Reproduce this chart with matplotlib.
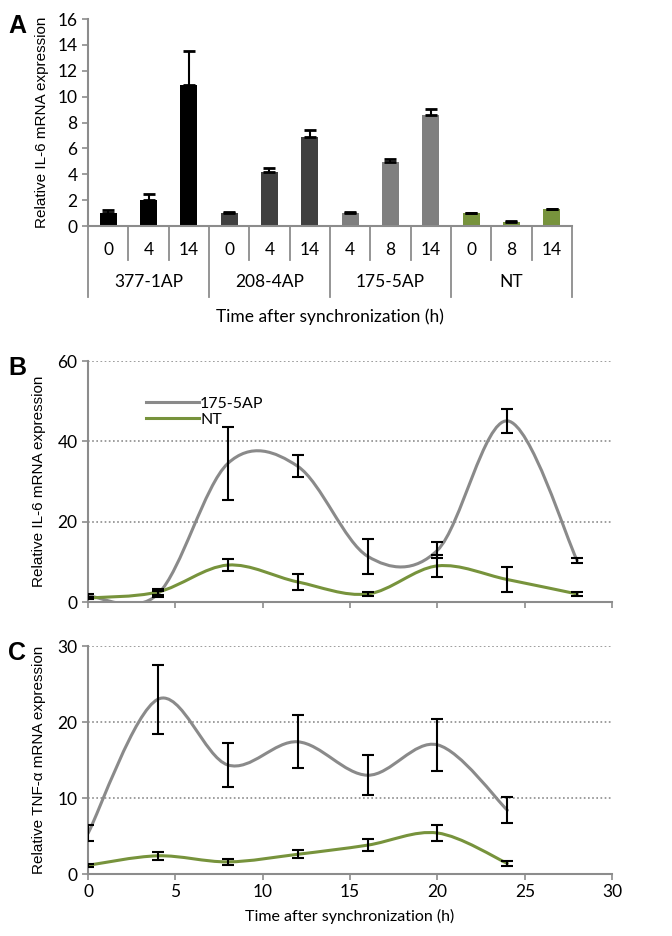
import numpy as np
import matplotlib
matplotlib.use("Agg")
import matplotlib.pyplot as plt
from matplotlib.path import Path
from matplotlib.patches import PathPatch
from matplotlib.lines import Line2D
import matplotlib.transforms as mtransforms

# ---- data ----
# panel A: bars
timesA = ['0', '4', '14', '0', '4', '14', '4', '8', '14', '0', '8', '14']
groupsA = ['377-1AP', '208-4AP', '175-5AP', 'NT']
il6_bar = [1.0, 2.0, 10.9, 1.0, 4.2, 6.9, 1.0, 4.95, 8.6, 1.0, 0.33, 1.3]
il6_bar_err = [0.25, 0.5, 2.6, 0.05, 0.25, 0.5, 0.05, 0.25, 0.45, 0.04, 0.03, 0.05]

# panel B: IL-6 time course
hoursB = [0, 4, 8, 12, 16, 20, 24, 28]
il6_175 = [1.5, 2.0, 34.5, 33.8, 11.4, 12.9, 45.1, 10.3]
il6_175_err = [0.4, 0.8, 9.0, 2.7, 4.4, 2.0, 2.9, 0.7]
il6_nt = [1.0, 2.5, 9.2, 5.0, 2.0, 9.0, 5.6, 2.0]
il6_nt_err = [0.3, 0.7, 1.5, 2.0, 0.4, 2.8, 3.0, 0.5]

# panel C: TNF-a time course
hoursC = [0, 4, 8, 12, 16, 20, 24]
tnf_175 = [5.35, 23.0, 14.35, 17.4, 13.0, 17.0, 8.4]
tnf_175_err = [1.05, 4.55, 2.85, 3.5, 2.6, 3.4, 1.7]
tnf_nt = [1.15, 2.4, 1.6, 2.6, 3.8, 5.4, 1.4]
tnf_nt_err = [0.2, 0.5, 0.35, 0.5, 0.8, 1.1, 0.3]

bar_colors = ['#000000', '#404040', '#7f7f7f', '#77933c']
grey = '#8a8a8a'
green = '#77933c'
axis_col = '#8c8c8c'
calibri = 'Lato'
arial = 'Liberation Sans'


def smooth(ax, x, y, **kw):
    # excel-like smoothed line: bezier segments through the data points
    pts = np.column_stack([x, y]).astype(float)
    n = len(pts)
    verts = [pts[0]]
    codes = [Path.MOVETO]
    for i in range(n - 1):
        p0 = pts[max(i - 1, 0)]
        p1 = pts[i]
        p2 = pts[i + 1]
        p3 = pts[min(i + 2, n - 1)]
        verts += [p1 + (p2 - p0) / 6, p2 - (p3 - p1) / 6, p2]
        codes += [Path.CURVE4] * 3
    ax.add_patch(PathPatch(Path(verts, codes), fill=False, capstyle='round', **kw))


def style(ax):
    for s in ['top', 'right']:
        ax.spines[s].set_visible(False)
    for s in ['left', 'bottom']:
        ax.spines[s].set_color(axis_col)
        ax.spines[s].set_linewidth(1.5)
    ax.tick_params(colors=axis_col, labelcolor='black', width=1.2, length=4,
                   labelsize=12.5)
    for lab in ax.get_yticklabels() + ax.get_xticklabels():
        lab.set_family(calibri)


fig = plt.figure(figsize=(6.72, 9.36), dpi=100)

# ---- panel A ----
axA = fig.add_axes([0.131, 0.7585, 0.720, 0.2212])
xa = np.arange(len(il6_bar))
cols = [bar_colors[i // 3] for i in xa]
axA.bar(xa, il6_bar, width=0.42, color=cols, zorder=2)
axA.errorbar(xa, il6_bar, yerr=[np.zeros(len(il6_bar)), il6_bar_err], fmt='none',
             ecolor='black', elinewidth=1.5, capsize=4, capthick=2, zorder=3)
axA.set_xlim(-0.5, len(il6_bar) - 0.5)
axA.set_ylim(0, 16)
axA.set_yticks(range(0, 17, 2))
axA.set_xticks([])
style(axA)
axA.set_ylabel('Relative IL-6 mRNA expression', family=arial, fontsize=11, labelpad=6)

trA = mtransforms.blended_transform_factory(axA.transData, axA.transAxes)
for i, t in enumerate(timesA):
    axA.text(i, -0.116, t, transform=trA, ha='center', va='center',
             family=calibri, fontsize=12.5)
for b in np.arange(-0.5, len(il6_bar), 1.0):
    is_group = int(round(b + 0.5)) % 3 == 0
    axA.plot([b, b], [0, -0.343 if is_group else -0.164], transform=trA,
             color=axis_col, lw=1.3, clip_on=False)
for g, name in enumerate(groupsA):
    axA.text(3 * g + 1, -0.27, name, transform=trA, ha='center', va='center',
             family=calibri, fontsize=12.5)
axA.text(0.5, -0.44, 'Time after synchronization (h)', transform=axA.transAxes,
         ha='center', va='center', family=calibri, fontsize=12.5)

# ---- panel B ----
axB = fig.add_axes([0.131, 0.3568, 0.780, 0.2575])
smooth(axB, hoursB, il6_175, color=grey, lw=2.2, zorder=2)
smooth(axB, hoursB, il6_nt, color=green, lw=2.2, zorder=2)
axB.errorbar(hoursB, il6_175, yerr=il6_175_err, fmt='none', ecolor='black',
             elinewidth=1.5, capsize=4, capthick=1.5, zorder=3)
axB.errorbar(hoursB, il6_nt, yerr=il6_nt_err, fmt='none', ecolor='black',
             elinewidth=1.5, capsize=4, capthick=1.5, zorder=3)
axB.set_xlim(0, 30)
axB.set_ylim(0, 60)
axB.set_yticks([0, 20, 40, 60])
axB.set_xticks(range(0, 31, 5))
axB.set_xticklabels([])
axB.yaxis.grid(True, linestyle=(0, (1, 1.5)), color=axis_col, lw=1.2)
style(axB)
axB.set_ylabel('Relative IL-6 mRNA expression', family=arial, fontsize=11, labelpad=8)
handles = [Line2D([], [], color=grey, lw=2.2), Line2D([], [], color=green, lw=2.2)]
axB.legend(handles, ['175-5AP', 'NT'], loc='upper left', bbox_to_anchor=(0.095, 0.885),
           frameon=False, handlelength=3.3, handletextpad=0.1, labelspacing=0.1,
           borderpad=0, prop={'family': calibri, 'size': 11.5})

# ---- panel C ----
axC = fig.add_axes([0.131, 0.0662, 0.780, 0.2436])
smooth(axC, hoursC, tnf_175, color=grey, lw=2.2, zorder=2)
smooth(axC, hoursC, tnf_nt, color=green, lw=2.2, zorder=2)
axC.errorbar(hoursC, tnf_175, yerr=tnf_175_err, fmt='none', ecolor='black',
             elinewidth=1.5, capsize=4, capthick=1.5, zorder=3)
axC.errorbar(hoursC, tnf_nt, yerr=tnf_nt_err, fmt='none', ecolor='black',
             elinewidth=1.5, capsize=4, capthick=1.5, zorder=3)
axC.set_xlim(0, 30)
axC.set_ylim(0, 30)
axC.set_yticks([0, 10, 20, 30])
axC.set_xticks(range(0, 31, 5))
axC.yaxis.grid(True, linestyle=(0, (1, 1.5)), color=axis_col, lw=1.2)
style(axC)
axC.set_ylabel('Relative TNF-\u03b1 mRNA expression', family=arial, fontsize=11, labelpad=8)
axC.set_xlabel('Time after synchronization (h)', family=calibri, fontsize=11.5, labelpad=6)

# panel letters
fig.text(0.012, 0.985, 'A', family=arial, weight='bold', fontsize=18, va='top')
fig.text(0.012, 0.62, 'B', family=arial, weight='bold', fontsize=18, va='top')
fig.text(0.012, 0.315, 'C', family=arial, weight='bold', fontsize=18, va='top')

fig.savefig('out.png', dpi=100)
